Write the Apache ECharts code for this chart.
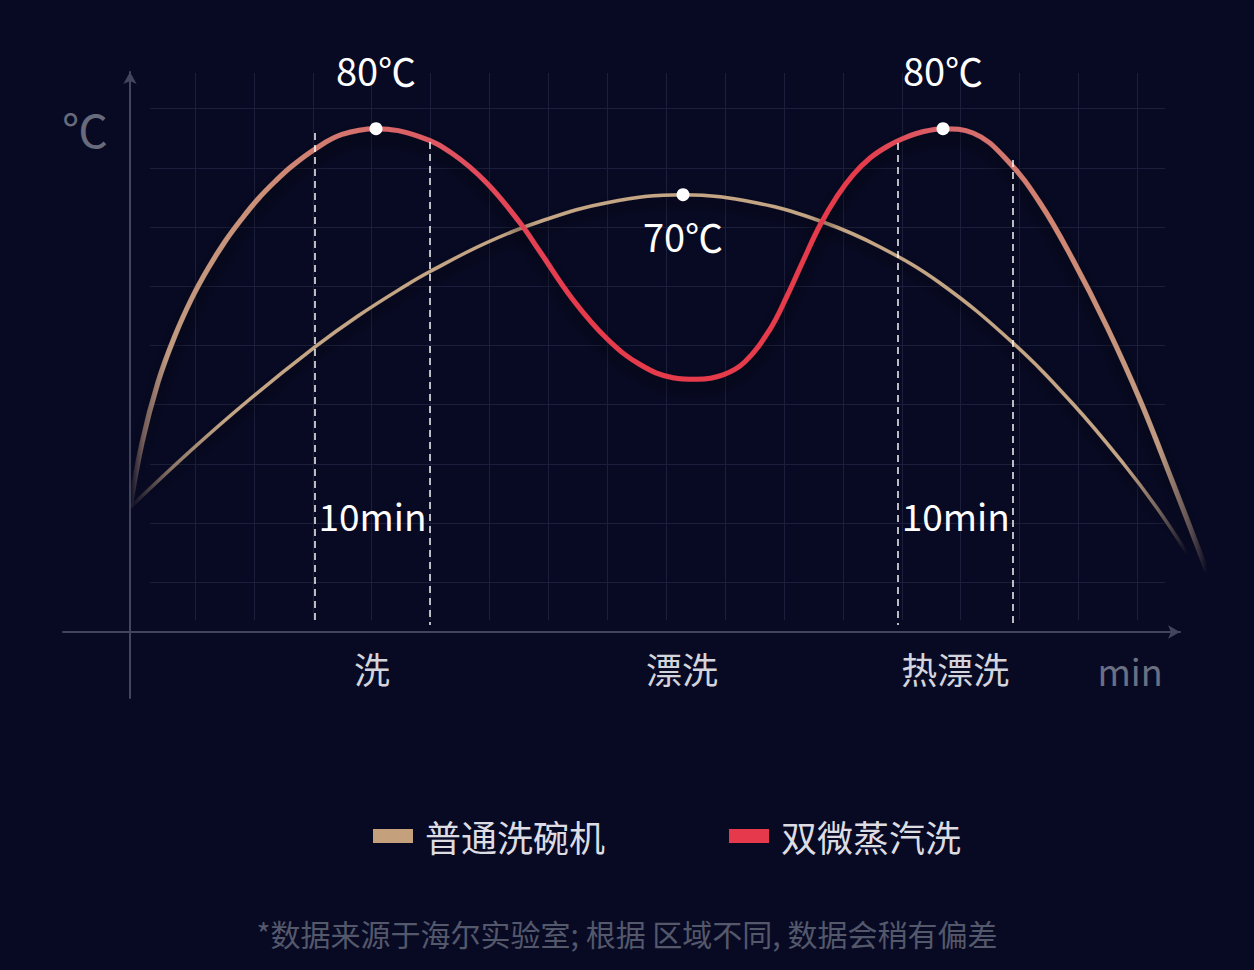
<!DOCTYPE html>
<html><head><meta charset="utf-8">
<script src="https://cdn.jsdelivr.net/npm/echarts@6/dist/echarts.min.js"></script>
<style>html,body{margin:0;padding:0;background:#080a24;}#c{width:1254px;height:970px;}</style>
</head><body><div id="c"></div>
<script>
// ---- data (x: time units from the origin, y: temperature units from the x axis) ----
const seriesNames = ['普通洗碗机', '双微蒸汽洗'];
const normalX = [0, 5.9, 11.43, 17.62, 21.71, 26.19, 28.57, 34.0, 39.05, 45.43, 52.67, 59.71, 66.0, 71.43, 77.14, 84.1, 89.81, 94.57, 97.81, 100.67];
const normalY = [19.79, 29.0, 37.03, 45.3, 50.22, 54.99, 57.29, 61.9, 65.24, 68.23, 69.5, 68.18, 65.16, 61.19, 55.47, 45.93, 36.24, 26.86, 19.71, 12.56];
const steamX = [0, 1.14, 2.67, 4.29, 5.9, 7.43, 9.05, 10.67, 12.19, 13.81, 15.43, 17.62, 20.19, 23.43,
  27.62, 30.76, 34.0, 37.14, 39.05, 42.19, 45.43, 48.57, 51.71, 54.0, 56.48, 58.57, 60.95, 62.57, 64.1,
  65.71, 67.33, 68.86, 70.48, 72.1, 73.62, 75.24, 77.43, 80.29, 83.52, 86.67, 89.81, 93.05, 96.19, 99.33, 101.9, 102.57];
const steamY = [19.71, 30.04, 39.73, 47.12, 53.08, 57.77, 62.06, 65.72, 68.82, 71.6, 74.06, 76.76, 79.07, 80,
  78.7, 75.97, 71.33, 65.03, 60.43, 52.81, 46.6, 42.51, 40.42, 40.15, 40.85, 42.94, 48.11, 53.37, 58.96,
  64.64, 69.23, 72.66, 75.33, 77.16, 78.43, 79.39, 80, 79.31, 75.02, 68.18, 59.12, 48.47, 36.87, 23.68, 12.56, 9.69];
const normalPeakIdx = [10];
const normalPeakLabels = ['70℃'];
const steamPeakIdx = [13, 36];
const steamPeakLabels = ['80℃', '80℃'];
const stageNames = ['洗', '漂洗', '热漂洗'];
const stageX = [23.05, 52.58, 78.59];
const washLineX = [17.62, 28.58, 73.16, 84.11];
const washLineTop = [79.32, 77.89, 77.73, 75.03];
const washLineBottom = 1.1;
const washLabel = '10min';
const washLabelY = 18.6;
const xAxisName = 'min';
const yAxisName = '℃';
const footnote = '*数据来源于海尔实验室; 根据 区域不同, 数据会稍有偏差';

const FONT = '"Noto Sans CJK SC", "Noto Sans", sans-serif';
const TAN = '#c4a07c';
const RED = '#e63a4c';

function buildData(xs, ys, peakIdx, peakLabels, pos, dist) {
  return xs.map((x, i) => {
    const p = peakIdx.indexOf(i);
    if (p < 0) return [x, ys[i]];
    return {
      value: [x, ys[i]],
      symbol: 'circle', symbolSize: 13,
      itemStyle: { color: '#ffffff', borderWidth: 0, opacity: 1 },
      label: { show: true, formatter: peakLabels[p], position: pos, distance: dist,
        color: '#ffffff', fontSize: 38, fontFamily: FONT }
    };
  });
}

const redGrad = { type: 'linear', x: 0, y: 0, x2: 1, y2: 0, colorStops: [
  { offset: 0, color: 'rgba(185,150,130,0)' },
  { offset: 0.012, color: 'rgba(190,150,128,0.55)' },
  { offset: 0.035, color: '#c09a80' },
  { offset: 0.12, color: '#cc9078' },
  { offset: 0.23, color: '#d86a6a' },
  { offset: 0.33, color: '#e2485a' },
  { offset: 0.42, color: RED },
  { offset: 0.68, color: RED },
  { offset: 0.755, color: '#d9656a' },
  { offset: 0.86, color: '#d08672' },
  { offset: 0.93, color: '#c4987e' },
  { offset: 0.955, color: '#bf9a80' },
  { offset: 0.985, color: 'rgba(180,150,128,0.45)' },
  { offset: 1, color: 'rgba(170,140,120,0)' }
]};
const tanGrad = { type: 'linear', x: 0, y: 0, x2: 1, y2: 0, colorStops: [
  { offset: 0, color: 'rgba(190,160,130,0)' },
  { offset: 0.04, color: 'rgba(192,162,130,0.7)' },
  { offset: 0.09, color: '#c4a584' },
  { offset: 0.94, color: '#c4a584' },
  { offset: 0.975, color: 'rgba(190,160,130,0.55)' },
  { offset: 1, color: 'rgba(190,160,130,0)' }
]};

const hiddenParts = { axisLine: { show: false }, axisTick: { show: false }, axisLabel: { show: false } };
const gridLineStyle = { color: '#1c1f3b', width: 1 };
const axisLineStyle = { color: '#42455c', width: 2 };
const stubAxis = { axisLine: { show: true, onZero: false, lineStyle: axisLineStyle }, axisTick: { show: false },
  axisLabel: { show: false }, splitLine: { show: false } };

const chart = echarts.init(document.getElementById('c'), null, { renderer: 'svg', width: 1254, height: 970 });
chart.setOption({
  backgroundColor: '#080a24',
  animation: false,
  textStyle: { fontFamily: FONT },
  title: { text: footnote, left: 'center', top: 913,
    textStyle: { color: '#54586b', fontSize: 30, fontWeight: 'normal', fontFamily: FONT } },
  legend: {
    data: [
      { name: seriesNames[0], itemStyle: { color: TAN } },
      { name: seriesNames[1], itemStyle: { color: RED } }
    ],
    icon: 'rect', itemWidth: 40, itemHeight: 14, itemGap: 124,
    left: 368, top: 813,
    textStyle: { color: '#dcdce2', fontSize: 36, fontFamily: FONT, padding: [0, 0, 0, 7] }
  },
  grid: [
    { left: 130, right: 74, top: 72, bottom: 338, outerBoundsMode: 'none' },
    { left: 150, top: 108.7, width: 1015, height: 473.6, outerBoundsMode: 'none' },
    { left: 195, top: 73, width: 942.4, height: 547, outerBoundsMode: 'none' },
    { left: 63, top: 632, width: 67, height: 66, outerBoundsMode: 'none' },
    // same scale as grid 0, but wide enough that the curve tails past the arrow are not cut
    { left: 130, top: 72, width: 1090.005, height: 560, outerBoundsMode: 'none' }
  ],
  xAxis: [
    { type: 'value', gridIndex: 0, min: 0, max: 100,
      axisLine: { show: true, onZero: false, symbol: ['none', 'arrow'], symbolSize: [10, 12], lineStyle: axisLineStyle },
      axisTick: { show: false }, splitLine: { show: false },
      axisLabel: { show: true, customValues: stageX,
        formatter: v => { const k = stageX.indexOf(v); return k < 0 ? '' : stageNames[k]; },
        color: '#d4d4dc', fontSize: 36, margin: 18, fontFamily: FONT },
      name: xAxisName, nameLocation: 'end', nameGap: -50,
      nameTextStyle: { color: '#6b6f82', fontSize: 36, align: 'center', verticalAlign: 'top', padding: [20, 0, 0, 0], fontFamily: FONT } },
    { type: 'value', gridIndex: 1, min: 0, max: 1, show: false },
    { type: 'value', gridIndex: 2, min: 0, max: 16, interval: 1, ...hiddenParts,
      splitLine: { show: true, lineStyle: gridLineStyle } },
    { type: 'value', gridIndex: 3, min: 0, max: 1, position: 'top', ...stubAxis },
    { type: 'value', gridIndex: 4, min: 0, max: 103.81, show: false }
  ],
  yAxis: [
    { type: 'value', gridIndex: 0, min: 0, max: 89,
      axisLine: { show: true, onZero: false, symbol: ['none', 'arrow'], symbolSize: [10, 12], lineStyle: axisLineStyle },
      axisTick: { show: false }, axisLabel: { show: false }, splitLine: { show: false },
      name: yAxisName, nameLocation: 'end', nameGap: -56,
      nameTextStyle: { color: '#676b7c', fontSize: 46, align: 'right', verticalAlign: 'middle', padding: [0, 22, 0, 0], fontFamily: FONT } },
    { type: 'value', gridIndex: 1, min: 0, max: 8, interval: 1, ...hiddenParts,
      splitLine: { show: true, lineStyle: gridLineStyle } },
    { type: 'value', gridIndex: 2, min: 0, max: 1, show: false },
    { type: 'value', gridIndex: 3, min: 0, max: 1, position: 'right', ...stubAxis },
    { type: 'value', gridIndex: 4, min: 0, max: 89, show: false }
  ],
  series: [
    { name: seriesNames[0], type: 'line', xAxisIndex: 4, yAxisIndex: 4, z: 3,
      smooth: 0.4, symbol: 'none', clip: false,
      itemStyle: { color: TAN },
      lineStyle: { width: 3.5, color: tanGrad, shadowColor: 'rgba(0,0,0,0.9)', shadowBlur: 14, shadowOffsetY: 6 },
      data: buildData(normalX, normalY, normalPeakIdx, normalPeakLabels, 'bottom', 15) },
    { name: seriesNames[1], type: 'line', xAxisIndex: 4, yAxisIndex: 4, z: 4,
      smooth: 0.4, symbol: 'none', clip: false,
      itemStyle: { color: RED },
      lineStyle: { width: 5, color: redGrad, shadowColor: 'rgba(0,0,0,0.9)', shadowBlur: 16, shadowOffsetY: 7 },
      data: buildData(steamX, steamY, steamPeakIdx, steamPeakLabels, 'top', 34) },
    { name: 'notes', type: 'scatter', xAxisIndex: 0, yAxisIndex: 0, z: 5,
      symbolSize: 0, silent: true, itemStyle: { opacity: 1 },
      label: { show: true, position: 'inside', formatter: washLabel, color: '#ffffff', fontSize: 37, fontFamily: FONT, textBorderWidth: 0 },
      data: [
        [(washLineX[0] + washLineX[1]) / 2, washLabelY],
        [(washLineX[2] + washLineX[3]) / 2, washLabelY]
      ],
      markLine: {
        silent: true, symbol: ['none', 'none'], label: { show: false },
        lineStyle: { type: [7, 5], color: 'rgba(255,255,255,0.9)', width: 1.6 },
        data: washLineX.map((x, i) => [{ coord: [x, washLineTop[i]] }, { coord: [x, washLineBottom] }])
      } }
  ]
});
</script>
</body></html>
